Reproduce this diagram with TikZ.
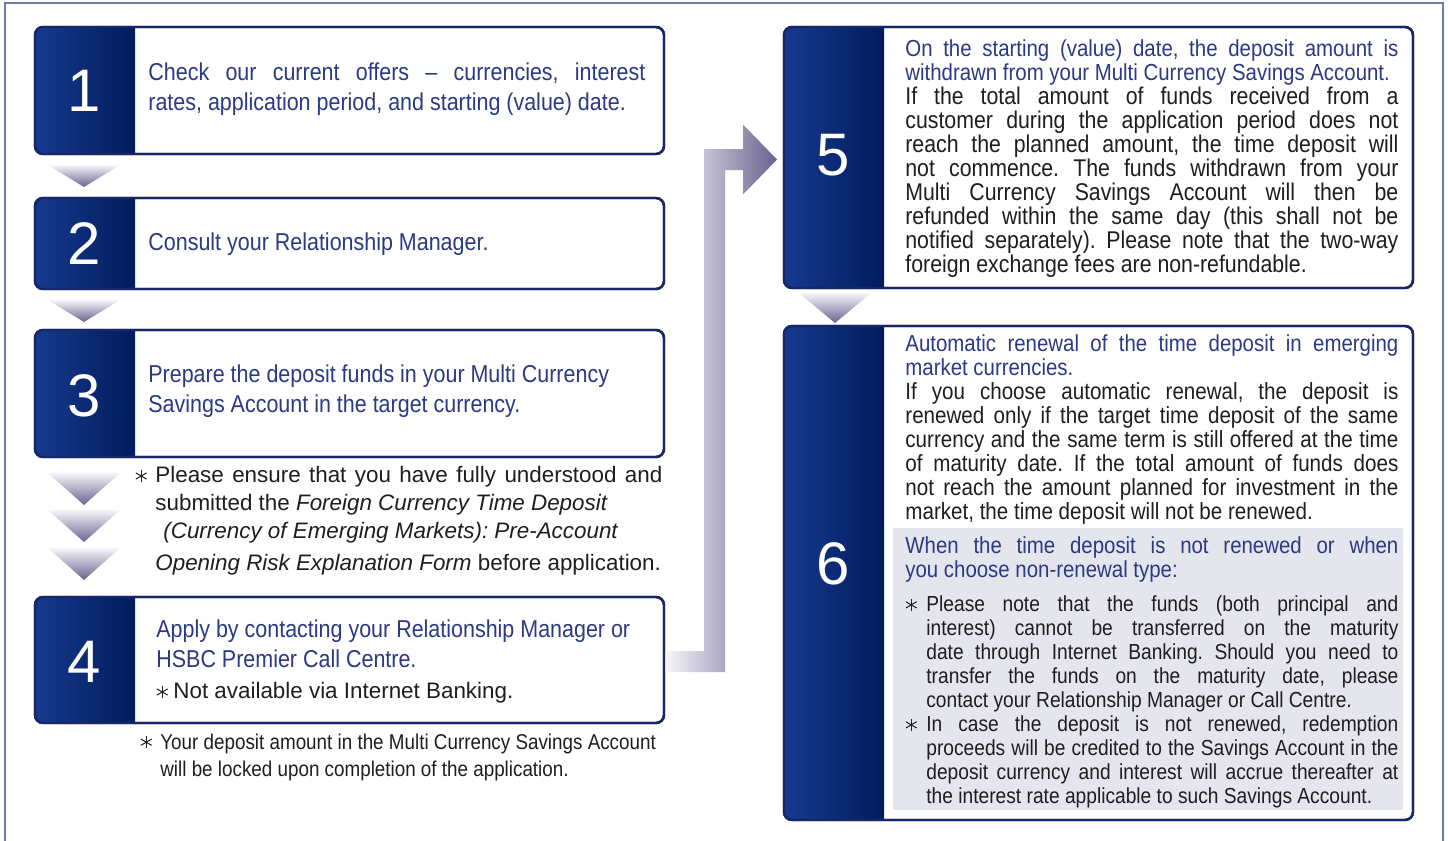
\documentclass[tikz,border=0pt]{standalone}
\usepackage{fontspec}
\setmainfont{Liberation Sans}
\newfontfamily\narrowfont{Liberation Sans}[FakeStretch=0.88]
\usetikzlibrary{calc}
\definecolor{panelleft}{RGB}{22,58,142}
\definecolor{panelright}{RGB}{2,28,92}
\definecolor{boxline}{RGB}{24,38,104}
\definecolor{stepblue}{RGB}{42,58,132}
\definecolor{inkblack}{RGB}{30,30,30}
\definecolor{paleband}{RGB}{246,245,250}
\definecolor{darkband}{RGB}{106,98,142}
\definecolor{panelgray}{RGB}{229,229,238}
\definecolor{framecol}{RGB}{112,122,170}
\tolerance=9999
\hbadness=10000
\hyphenpenalty=10000
\exhyphenpenalty=10000
\frenchspacing
%star mark of the notes
\newcommand{\notestar}{\tikz[baseline=-3.4pt]{\foreach \a in {30,90,150}
  \draw[inkblack,line width=0.5pt] (\a:3.1pt) -- (\a+180:3.1pt);}}
%dark number panel on the left of a step box
\newcommand{\numpanel}[3]{%
  \begin{scope}
    \clip[rounded corners=4pt] (#1.north west) rectangle (#1.south east);
    \shade[left color=panelleft,right color=panelright]
      (#1.north west) rectangle ($(#1.south west)+(100,0)$);
  \end{scope}
  \draw[boxline,line width=1.2pt,rounded corners=4pt]
    (#1.north west) rectangle (#1.south east);
  \node[stepnum] (#1num) at ($(#1.west)+(49,#3)$) {#2};}
%shaded triangle pointing down
\newcommand{\downtri}[2]{%
  \shade[top color=paleband,bottom color=darkband]
    ($(#1)+(-36,0)$) -- ($(#1)+(36,0)$) -- ($(#1)+(0,#2)$) -- cycle;}
%paragraph with a star in front
\newcommand{\staritem}[2]{\hangindent=#1\hangafter=1\noindent
  \makebox[#1][l]{\notestar}#2\par}
\begin{document}
\begin{tikzpicture}
    [x=0.5pt,y=-0.5pt,
     stepbox/.style={rectangle,rounded corners=4pt,fill=white,draw=boxline,
       line width=1.2pt,inner sep=0pt,outer sep=0pt,minimum width=314.5pt},
     stepnum/.style={text=white,inner sep=0pt,font=\fontsize{30}{30}\selectfont},
     steptext/.style={anchor=west,inner sep=0pt,align=justify,text=stepblue,
       font=\narrowfont\fontsize{12.2}{15}\selectfont},
     notetext/.style={anchor=west,inner sep=0pt,align=justify,text=inkblack},
     longtext/.style={anchor=west,inner sep=0pt,align=justify,text=inkblack,
       text width=246.5pt},
     graypanel/.style={rectangle,fill=panelgray,inner sep=0pt,
       minimum width=255pt,minimum height=141pt}]
    \useasboundingbox (0,0) rectangle (1448,841);
    %outer frame
    \draw[framecol,line width=0.6pt] (5,841) -- (5,3) -- (1443,3) -- (1443,841);
    %step boxes
    \node[stepbox,minimum height=63.5pt] (s1) at (349.5,90.5) {};
    \node[stepbox,minimum height=45.5pt] (s2) at (349.5,243.5) {};
    \node[stepbox,minimum height=63.5pt] (s3) at (349.5,393.5) {};
    \node[stepbox,minimum height=63pt] (s4) at (349.5,660) {};
    \node[stepbox,minimum height=130.5pt] (s5) at (1098.5,157.5) {};
    \node[stepbox,minimum height=247pt] (s6) at (1098.5,573) {};
    %number panels
    \numpanel{s1}{1}{0}
    \numpanel{s2}{2}{0}
    \numpanel{s3}{3}{2}
    \numpanel{s4}{4}{2}
    \numpanel{s5}{5}{-2}
    \numpanel{s6}{6}{-9}
    %triangles between the steps
    \coordinate (t12) at ($(s1.south west)+(49,11)$);
    \coordinate (t23) at ($(s2.south west)+(49,11)$);
    \coordinate (t34a) at ($(s3.south west)+(49,16)$);
    \coordinate (t34b) at ($(s3.south west)+(49,53)$);
    \coordinate (t34c) at ($(s3.south west)+(49,91)$);
    \coordinate (t56) at ($(s5.south west)+(51,5)$);
    \downtri{t12}{22}
    \downtri{t23}{22}
    \downtri{t34a}{32}
    \downtri{t34b}{32}
    \downtri{t34c}{32}
    \downtri{t56}{30}
    %bent band from step 4 up to step 5
    \coordinate (bandin) at ($(s4.east)+(1.5,1.5)$);
    \coordinate (bandout) at ($(s5.west)+(-7,2)$);
    \coordinate (bandup) at ($(s4.east)+(40,1.5)$);
    \coordinate (headbase) at ($(bandout)+(-34,0)$);
    \shade[left color=paleband,right color=darkband]
      ($(bandin)+(0,-10.5)$) -- ($(bandup)+(0,-10.5)$)
      -- ($(bandup|-bandout)+(0,-10.5)$) -- ($(headbase)+(0,-10.5)$)
      -- ($(headbase)+(0,-35)$) -- (bandout) -- ($(headbase)+(0,35)$)
      -- ($(headbase)+(0,10.5)$) -- ($(bandup|-bandout)+(21,10.5)$)
      -- ($(bandup)+(21,10.5)$) -- ($(bandin)+(0,10.5)$) -- cycle;
    %texts of the left column
    \node[steptext,text width=248.5pt] (s1txt) at (148,89)
      {Check our current offers – currencies, interest\linebreak
       rates, application period, and starting (value) date.};
    \node[steptext,text width=248.5pt] (s2txt) at (148,244)
      {Consult your Relationship Manager.};
    \node[steptext,text width=248.5pt] (s3txt) at (148,391)
      {Prepare the deposit funds in your Multi Currency\\
       Savings Account in the target currency.};
    \node[notetext,text width=263.5pt,font=\fontsize{11.2}{14}\selectfont]
      (s3note) at (135,521)
      {\staritem{10pt}{Please ensure that you have fully understood and\linebreak
       submitted the \textit{Foreign Currency Time Deposit}\\
       \hspace*{4pt}\textit{(Currency of Emerging Markets): Pre-Account}\\[2pt]
       \textit{Opening Risk Explanation Form} before application.}};
    \node[steptext,text width=247pt] (s4txt) at (156,644)
      {Apply by contacting your Relationship Manager or\\
       HSBC Premier Call Centre.};
    \node[notetext,text width=247pt,font=\fontsize{11.2}{15}\selectfont]
      (s4sub) at (156,693)
      {\makebox[8.5pt][l]{\notestar}Not available via Internet Banking.};
    \node[notetext,text width=264pt,font=\narrowfont\fontsize{10.7}{13.5}\selectfont]
      (s4note) at (140,757)
      {\staritem{10pt}{Your deposit amount in the Multi Currency Savings Account\\
       will be locked upon completion of the application.}};
    %texts of the right column
    \node[longtext] (s5txt) at (905,159)
      {{\color{stepblue}\narrowfont\fontsize{11.6}{12}\selectfont
       On the starting (value) date, the deposit amount is\linebreak
       withdrawn from your Multi Currency Savings Account.\par}
       {\narrowfont\fontsize{12.1}{12}\selectfont
       If the total amount of funds received from a\linebreak
       customer during the application period does not\linebreak
       reach the planned amount, the time deposit will\linebreak
       not commence. The funds withdrawn from your\linebreak
       Multi Currency Savings Account will then be\linebreak
       refunded within the same day (this shall not be\linebreak
       notified separately). Please note that the two-way\linebreak
       foreign exchange fees are non-refundable.\par}};
    \node[longtext] (s6txt) at (905,430)
      {{\color{stepblue}\narrowfont\fontsize{11.6}{12}\selectfont
       Automatic renewal of the time deposit in emerging\linebreak
       market currencies.\par}
       {\narrowfont\fontsize{11.7}{12}\selectfont
       If you choose automatic renewal, the deposit is\linebreak
       renewed only if the target time deposit of the same\linebreak
       currency and the same term is still offered at the time\linebreak
       of maturity date. If the total amount of funds does\linebreak
       not reach the amount planned for investment in the\linebreak
       market, the time deposit will not be renewed.\par}};
    \node[graypanel] (g6) at (1148,669) {};
    \node[longtext,text=stepblue,font=\narrowfont\fontsize{11.6}{12}\selectfont]
      (g6head) at (905,559)
      {When the time deposit is not renewed or when\linebreak
       you choose non-renewal type:};
    \node[longtext,font=\narrowfont\fontsize{10.9}{12}\selectfont]
      (g6txt) at (905,702)
      {\staritem{10.5pt}{Please note that the funds (both principal and\linebreak
       interest) cannot be transferred on the maturity\linebreak
       date through Internet Banking. Should you need to\linebreak
       transfer the funds on the maturity date, please\linebreak
       contact your Relationship Manager or Call Centre.}
       \staritem{10.5pt}{In case the deposit is not renewed, redemption\linebreak
       proceeds will be credited to the Savings Account in the\linebreak
       deposit currency and interest will accrue thereafter at\linebreak
       the interest rate applicable to such Savings Account.}};
\end{tikzpicture}
\end{document}
